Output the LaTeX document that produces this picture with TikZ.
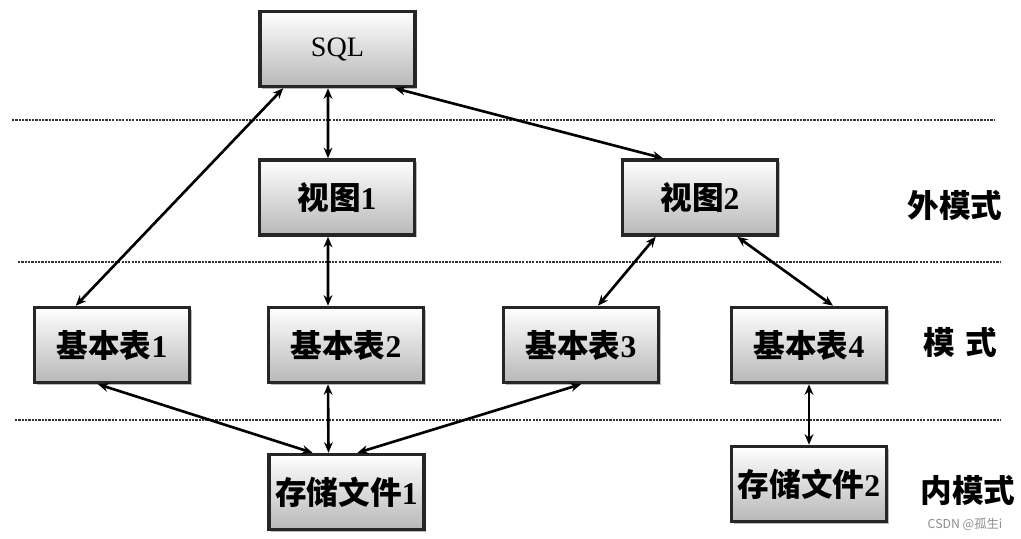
\documentclass[tikz,border=0pt]{standalone}
\usepackage{fontspec}
\setmainfont{Liberation Serif}
\newfontfamily\cjk{Noto Sans CJK SC}
\usetikzlibrary{arrows.meta,shadows}

\begin{document}
\begin{tikzpicture}[
   box/.style={draw=black!85,line width=2pt,top color=white,bottom color=black!28,
      minimum width=3.1cm,minimum height=1.5cm,font=\fontsize{18}{20}\selectfont\bfseries,
      drop shadow={shadow xshift=1.2pt,shadow yshift=-1.2pt,fill=black!45,opacity=.6}},
   lvl/.style={font=\fontsize{18}{20}\selectfont\cjk\bfseries},
   sep/.style={line width=1.4pt,black!80,dash pattern=on 1.3pt off .6pt},
   link/.style={{Stealth[length=6pt,width=5pt]}-{Stealth[length=6pt,width=5pt]},line width=1.5pt}]
   \useasboundingbox (0,0) rectangle (20.42,-10.78);

   \draw[sep] (0.24,-2.4) -- (19.9,-2.4);
   \draw[sep] (0.36,-5.24) -- (20.0,-5.24);
   \draw[sep] (0.3,-8.4) -- (20.0,-8.4);

   \node[box] (s)  at (6.75,-0.98) {\fontsize{16}{18}\selectfont\mdseries SQL};
   \node[box] (v1) at (6.74,-3.95) {{\cjk 视图}1};
   \node[box] (v2) at (14.0,-3.95) {{\cjk 视图}2};
   \node[box] (t1) at (2.24,-6.9)  {{\cjk 基本表}1};
   \node[box] (t2) at (6.92,-6.9)  {{\cjk 基本表}2};
   \node[box] (t3) at (11.62,-6.9) {{\cjk 基本表}3};
   \node[box] (t4) at (16.18,-6.9) {{\cjk 基本表}4};
   \node[box] (f1) at (6.93,-9.84) {{\cjk 存储文件}1};
   \node[box] (f2) at (16.18,-9.68) {{\cjk 存储文件}2};

   \node[lvl] (l1) at (19.1,-4.1)  {外模式};
   \node[lvl] (l2) at (19.2,-6.84) {模\,\,式};
   \node[lvl] (l3) at (19.36,-9.8) {内模式};
   \node[text=black!45,font=\cjk\fontsize{7}{8}\selectfont] (wm) at (19.3,-10.48) {CSDN @孤生i};

   \path[link] ([xshift=.5cm]s.south west) edge ([xshift=.86cm]t1.north west);
   \path[link] ([xshift=-.19cm]s.south) edge ([xshift=-.18cm]v1.north);
   \path[link] ([xshift=-.44cm]s.south east) edge ([xshift=-.74cm]v2.north);
   \path[link] ([xshift=-.18cm]v1.south) edge ([xshift=-.36cm]t2.north);
   \path[link] ([xshift=.7cm]v2.south west) edge ([xshift=.34cm]t3.north);
   \path[link] ([xshift=-.84cm]v2.south east) edge ([xshift=.48cm]t4.north);
   \path[link] ([xshift=-.28cm]t1.south) edge ([xshift=-.68cm]f1.north);
   \path[link] ([xshift=-.36cm]t2.south) edge ([xshift=-.36cm]f1.north);
   \path[link] (t3.south) edge ([xshift=.22cm]f1.north);
   \path[link] (t4.south) edge (f2.north);

\end{tikzpicture}
\end{document}
